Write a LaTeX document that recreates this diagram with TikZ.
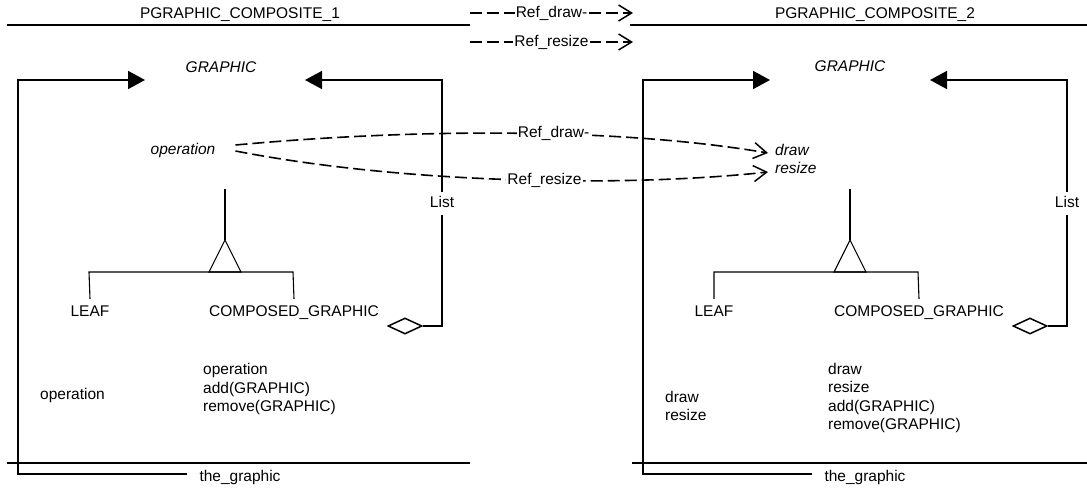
\documentclass[tikz,border=0pt]{standalone}
\usepackage{fontspec}
\setmainfont{Liberation Sans}
\usetikzlibrary{arrows.meta,shapes.geometric}
\begin{document}
\begin{tikzpicture}[x=1pt,y=-1pt,
  every node/.style={font=\fontsize{15.5}{18.3}\selectfont, inner sep=0pt},
  lbl/.style={text height=11pt, text depth=3pt},
  ital/.style={lbl, font=\fontsize{15.5}{18.3}\selectfont\itshape},
  multi/.style={align=left, anchor=west},
  rule/.style={line width=1.5pt},
  border/.style={line width=1.7pt},
  inher/.style={line width=1.1pt},
  assoc/.style={border, -{Triangle[length=17pt,width=18pt]}},
  ref/.style={line width=1.6pt, dash pattern=on 12pt off 5pt,
              -{Straight Barb[length=13pt,width=16pt,line width=1.5pt]}},
  reflbl/.style={lbl, fill=white, inner xsep=1pt},
  listlbl/.style={lbl, fill=white, inner ysep=4.5pt, inner xsep=1pt},
  agg/.style={diamond, draw, line width=1.5pt, minimum width=34pt, minimum height=16pt, inner sep=0pt, aspect=2}
]
\useasboundingbox (0,0) rectangle (1087,488);

% ---------------- legend ----------------
\coordinate (lg1a) at (470,13);
\coordinate (lg1b) at (633,13);
\coordinate (lg2a) at (470,42);
\coordinate (lg2b) at (633,42);
\draw[ref] (lg1a) -- node[reflbl] (lgl1) {Ref\_draw-} (lg1b);
\draw[ref] (lg2a) -- node[reflbl] (lgl2) {Ref\_resize} (lg2b);

% ---------------- left cluster ----------------
\node[lbl] (title1) at (240,14) {PGRAPHIC\_COMPOSITE\_1};
\draw[rule] (7,25) -- (470,25);
\draw[rule] (7,463) -- (470,463);

\node[ital] (graphic1) at (221,68) {GRAPHIC};
\node[ital] (op1) at (183,150) {operation};
\node[lbl] (leaf1) at (90,312) {LEAF};
\node[lbl] (comp1) at (294,312) {COMPOSED\_GRAPHIC};
\node[lbl, anchor=west] (leafops1) at (40,395) {operation};
\node[multi] (compops1) at (203,389) {operation\\add(GRAPHIC)\\remove(GRAPHIC)};
\node[lbl] (tg1) at (240,477) {the\_graphic};
\node[agg] (dia1) at (405,326) {};

\coordinate (tg1s) at (187,474);
\coordinate (a1tip) at (145,80);
\coordinate (a2tip) at (305,80);
\draw[assoc] (tg1s) -- (18,474) -- (18,80) -- (a1tip);
\draw[assoc] (dia1.east) -- (442,326) -- node[listlbl] (list1) {List} (442,80) -- (a2tip);

\coordinate (gen1top) at (225,189);
\coordinate (gen1apex) at (225,240);
\draw[inher] (gen1top) -- (gen1apex);
\draw[inher] (gen1apex) -- (209,272) -- (241,272) -- cycle;
\draw[inher] ([yshift=6pt]leaf1.north) -- (89,272) -- (293,272) -- ([yshift=6pt]comp1.north);

% ---------------- right cluster ----------------
\node[lbl] (title2) at (875,14) {PGRAPHIC\_COMPOSITE\_2};
\draw[rule] (630,25) -- (1087,25);
\draw[rule] (632,463) -- (1087,463);

\node[ital] (graphic2) at (850,67) {GRAPHIC};
\node[ital, anchor=west] (drawop) at (775,151) {draw};
\node[ital, anchor=west] (resizeop) at (775,169) {resize};
\node[lbl] (leaf2) at (714,312) {LEAF};
\node[lbl] (comp2) at (919,312) {COMPOSED\_GRAPHIC};
\node[multi] (leafops2) at (665,406) {draw\\resize};
\node[multi] (compops2) at (828,398) {draw\\resize\\add(GRAPHIC)\\remove(GRAPHIC)};
\node[lbl] (tg2) at (865,477) {the\_graphic};
\node[agg] (dia2) at (1030,326) {};

\coordinate (tg2s) at (812,474);
\coordinate (b1tip) at (770,80);
\coordinate (b2tip) at (930,80);
\draw[assoc] (tg2s) -- (643,474) -- (643,80) -- (b1tip);
\draw[assoc] (dia2.east) -- (1067,326) -- node[listlbl] (list2) {List} (1067,80) -- (b2tip);

\coordinate (gen2top) at (850,189);
\coordinate (gen2apex) at (850,240);
\draw[inher] (gen2top) -- (gen2apex);
\draw[inher] (gen2apex) -- (834,272) -- (866,272) -- cycle;
\draw[inher] ([yshift=6pt]leaf2.north) -- (714,272) -- (918,272) -- ([yshift=6pt]comp2.north);

% ---------------- refinement curves ----------------
\draw[ref] ([xshift=20pt,yshift=5pt]op1.east) .. controls (420,128) and (620,128) ..
   node[reflbl, pos=0.57] (rdl) {Ref\_draw-} ([xshift=-7pt,yshift=-2pt]drawop.west);
\draw[ref] ([xshift=20pt,yshift=-1pt]op1.east) .. controls (400,183) and (620,188) ..
   node[reflbl, pos=0.565] (rrl) {Ref\_resize} ([xshift=-7pt,yshift=-3pt]resizeop.west);
\end{tikzpicture}
\end{document}
